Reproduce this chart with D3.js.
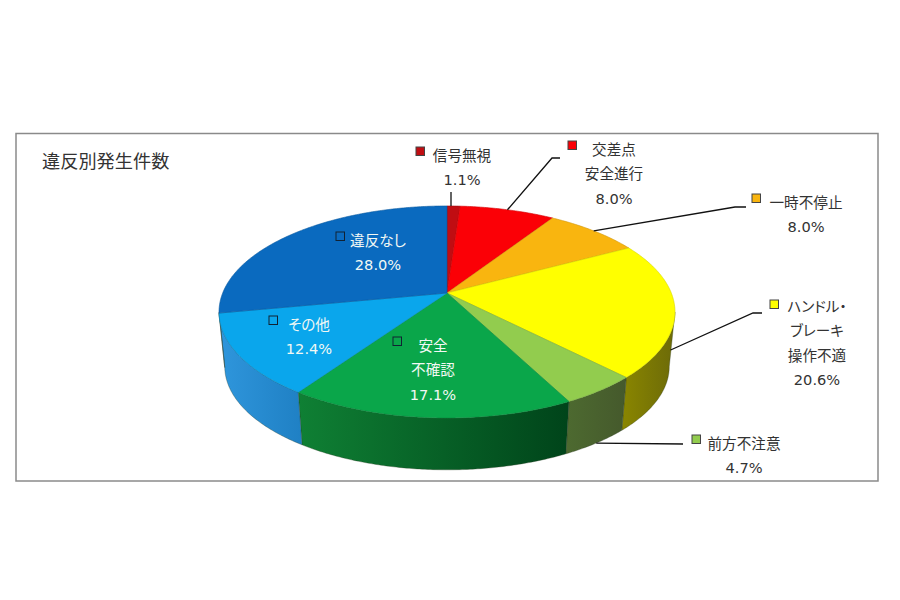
<!DOCTYPE html>
<html>
<head>
    <meta charset="utf-8">
    <script src="https://cdnjs.cloudflare.com/ajax/libs/d3/7.8.5/d3.min.js"></script>
    <style>
        html, body { margin: 0; padding: 0; background: #fff; }
        text { font-family: "Noto Sans CJK JP", "Noto Sans", sans-serif; font-feature-settings: "palt"; }
        text.pct { font-family: "DejaVu Sans", sans-serif; font-feature-settings: normal; }
    </style>
</head>
<body>
    <div id="chart"></div>
    <script>
        const chartTitle = "違反別発生件数";
        const categories = ["信号無視", "交差点安全進行", "一時不停止", "ハンドル・ブレーキ操作不適", "前方不注意", "安全不確認", "その他", "違反なし"];
        const values = [1.1, 8.0, 8.0, 20.6, 4.7, 17.1, 12.4, 28.0];
        const labelLines = [
            ["信号無視"],
            ["交差点", "安全進行"],
            ["一時不停止"],
            ["ハンドル・", "ブレーキ", "操作不適"],
            ["前方不注意"],
            ["安全", "不確認"],
            ["その他"],
            ["違反なし"]
        ];
        const topColors = ["#c00d12", "#fb0006", "#f9b50f", "#ffff00", "#92cc4e", "#0aa64a", "#0aa6ec", "#0a6abf"];
        const sideStart = ["#800000", "#a00000", "#a07800", "#8a8600", "#4d6a30", "#0f8034", "#2f96dc", "#0a4f90"];
        const sideEnd = ["#800000", "#a00000", "#a07800", "#6c6a08", "#45592c", "#00441a", "#1f80c4", "#0a4f90"];

        // label block layout: text centre x, first baseline y, marker x/y (top left), light text?
        const labelLayout = [
            { x: 462, y: 161, mx: 416, my: 147, light: false },
            { x: 614, y: 155, mx: 568, my: 141, light: false },
            { x: 806, y: 208, mx: 752, my: 194, light: false },
            { x: 817, y: 312, mx: 770, my: 300, light: false },
            { x: 744, y: 449, mx: 692, my: 435, light: false },
            { x: 433, y: 351, mx: 393, my: 337, light: true },
            { x: 309, y: 330, mx: 269, my: 316, light: true },
            { x: 378, y: 246, mx: 336, my: 232, light: true }
        ];
        // leader lines: where they leave the pie and where the elbow goes
        const leaders = [
            { i: 0, level: 0, pts: [[451, 192]], fixX: 451 },
            { i: 1, level: 0, pts: [[552, 158], [560, 158]] },
            { i: 2, level: 0, pts: [[735, 207], [746, 207]] },
            { i: 3, level: 0.75, pts: [[753, 313], [762, 313]] },
            { i: 4, level: 1, pts: [[683, 444]] }
        ];

        const width = 900;
        const height = 600;
        const lineGap = 24.4;

        // perspective of the pie
        const cx = 447, apexY = 293;
        const rimA = 224.3, rimB = 102.6, persp = 0.179;
        const baseScale = 0.975, baseApexY = 348;

        function project(angle, level) {
            const u = Math.sin(angle), v = Math.cos(angle);
            const w = 1 + persp * v;
            const x = rimA * u / w, y = -rimB * v / w;
            const topPt = [cx + x, apexY + y];
            const botPt = [cx + x * baseScale, baseApexY + y * baseScale];
            return [topPt[0] + (botPt[0] - topPt[0]) * level, topPt[1] + (botPt[1] - topPt[1]) * level];
        }

        function arcPoints(a0, a1, level) {
            const n = Math.max(2, Math.ceil(Math.abs(a1 - a0) / 0.01));
            return d3.range(n + 1).map(i => project(a0 + (a1 - a0) * i / n, level));
        }

        const svg = d3.select("#chart").append("svg")
            .attr("width", width)
            .attr("height", height);

        svg.append("rect")
            .attr("x", 16).attr("y", 133.5)
            .attr("width", 862).attr("height", 347.5)
            .attr("fill", "#fff")
            .attr("stroke", "#8a8a8a")
            .attr("stroke-width", 1.5);

        svg.append("text")
            .attr("x", 42).attr("y", 168)
            .attr("font-size", 18.2)
            .attr("fill", "#333")
            .text(chartTitle);

        const pie = d3.pie().sort(null).value(d => d);
        const slices = pie(values);
        const line = d3.line();
        const defs = svg.append("defs");

        // visible part of the side wall
        const sideMin = Math.acos(-persp);
        const sideMax = 2 * Math.PI - sideMin;

        slices.forEach((s, i) => {
            const a0 = Math.max(s.startAngle, sideMin);
            const a1 = Math.min(s.endAngle, sideMax);
            if (a1 <= a0) return;
            const top = arcPoints(a0, a1, 0);
            const bottom = arcPoints(a1, a0, 1);
            const xs = top.concat(bottom).map(p => p[0]);
            const grad = defs.append("linearGradient")
                .attr("id", "side" + i)
                .attr("gradientUnits", "userSpaceOnUse")
                .attr("x1", d3.min(xs)).attr("x2", d3.max(xs))
                .attr("y1", 0).attr("y2", 0);
            // the wall darkens towards the right of each piece
            grad.append("stop").attr("offset", 0).attr("stop-color", sideStart[i]);
            grad.append("stop").attr("offset", 1).attr("stop-color", sideEnd[i]);
            svg.append("path")
                .attr("d", line(top.concat(bottom)) + "Z")
                .attr("fill", `url(#side${i})`)
                .attr("stroke", "#2a3a20")
                .attr("stroke-opacity", 0.45)
                .attr("stroke-width", 0.7);
        });

        slices.forEach((s, i) => {
            const pts = [[cx, apexY]].concat(arcPoints(s.startAngle, s.endAngle, 0));
            svg.append("path")
                .attr("d", line(pts) + "Z")
                .attr("fill", topColors[i])
                .attr("stroke", d3.color(topColors[i]).darker(0.5))
                .attr("stroke-width", 0.6);
        });

        leaders.forEach(l => {
            const s = slices[l.i];
            const mid = (s.startAngle + s.endAngle) / 2;
            const start = project(mid, l.level);
            if (l.fixX) start[0] = l.fixX;
            svg.append("path")
                .attr("d", line([start].concat(l.pts)))
                .attr("fill", "none")
                .attr("stroke", "#111")
                .attr("stroke-width", 1.3);
        });

        categories.forEach((name, i) => {
            const pos = labelLayout[i];
            svg.append("rect")
                .attr("x", pos.mx).attr("y", pos.my)
                .attr("width", 8.5).attr("height", 8.5)
                .attr("fill", topColors[i])
                .attr("stroke", pos.light ? "#123" : "#444")
                .attr("stroke-width", 1);
            const rows = labelLines[i].concat(d3.format(".1f")(values[i]) + "%");
            svg.append("g").selectAll("text")
                .data(rows)
                .enter().append("text")
                .attr("class", (d, r) => r === rows.length - 1 ? "pct" : null)
                .attr("x", pos.x)
                .attr("y", (d, r) => pos.y + r * lineGap)
                .attr("text-anchor", "middle")
                .attr("font-size", (d, r) => r === rows.length - 1 ? 14.6 : 14.6)
                .attr("fill", pos.light ? "#f2f8f4" : "#333")
                .text(d => d);
        });
    </script>
</body>
</html>
